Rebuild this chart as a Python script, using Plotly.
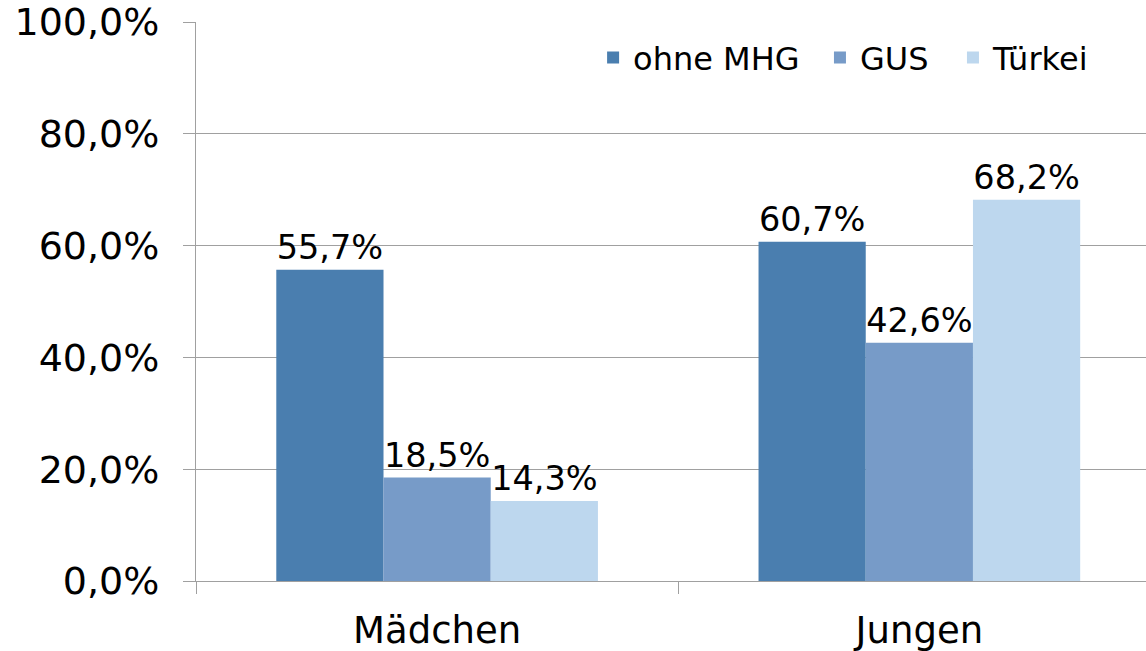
import plotly.graph_objects as go

categories = ["Mädchen", "Jungen"]
series_names = ["ohne MHG", "GUS", "Türkei"]
ohne_mhg = [55.7, 60.7]
gus = [18.5, 42.6]
tuerkei = [14.3, 68.2]
tick_vals = [0, 20, 40, 60, 80, 100]
tick_text = ["0,0%", "20,0%", "40,0%", "60,0%", "80,0%", "100,0%"]

colors = ["#4A7EAF", "#779BC8", "#BDD7EE"]
legend_ids = ["legend", "legend2", "legend3"]
legend_x = [0.418, 0.6568, 0.7968]
FONT = "DejaVu Sans"

def fmt(v):
    return f"{v:.1f}".replace(".", ",") + "%"

fig = go.Figure()
for name, vals, col, lid in zip(series_names, [ohne_mhg, gus, tuerkei], colors, legend_ids):
    fig.add_trace(go.Bar(
        x=categories, y=vals, name=name, marker=dict(color=col, line=dict(width=0)),
        text=[fmt(v) for v in vals], textposition="outside",
        textfont=dict(family=FONT, size=33.5, color="black"), cliponaxis=False,
        legend=lid,
    ))

legend_common = dict(orientation="h", xanchor="left", y=0.936, yanchor="middle",
                     font=dict(family=FONT, size=32, color="black"),
                     bgcolor="rgba(0,0,0,0)", borderwidth=0)
fig.update_layout(
    width=1146, height=651,
    margin=dict(l=196, r=0, t=22, b=70),
    paper_bgcolor="white", plot_bgcolor="white",
    barmode="group", bargap=0.333, bargroupgap=0,
    font=dict(family=FONT, color="black"),
    legend=dict(x=legend_x[0], **legend_common),
    legend2=dict(x=legend_x[1], **legend_common),
    legend3=dict(x=legend_x[2], **legend_common),
    showlegend=True,
)
fig.update_xaxes(
    range=[-0.5, 1.47], showgrid=False, showline=True, linecolor="#A0A0A0", linewidth=1,
    ticks="outside", tickson="boundaries", ticklen=12, tickcolor="#A0A0A0",
    tickfont=dict(family=FONT, size=37, color="black"), ticklabelstandoff=17,
)
fig.update_yaxes(
    range=[0, 100], tickvals=tick_vals, ticktext=tick_text,
    showgrid=True, gridcolor="#A0A0A0", gridwidth=1,
    showline=True, linecolor="#A0A0A0", linewidth=1, zeroline=False,
    ticks="outside", ticklen=12, tickcolor="#A0A0A0",
    tickfont=dict(family=FONT, size=38, color="black"), ticklabelstandoff=16,
)

fig.write_html("out.html", config={"displayModeBar": False},
               post_script="document.body.style.margin='0';document.body.style.overflow='hidden';")
